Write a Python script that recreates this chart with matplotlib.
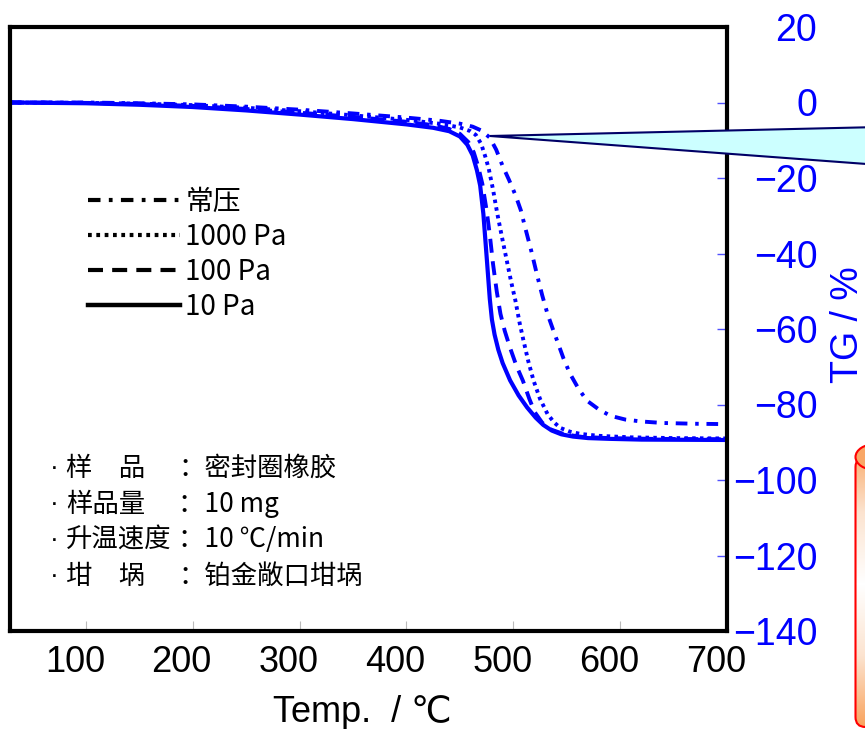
import matplotlib
matplotlib.use("Agg")
import matplotlib.pyplot as plt
import matplotlib.transforms as mtransforms
from matplotlib.lines import Line2D
from matplotlib.patches import Polygon, FancyBboxPatch, Ellipse
import numpy as np

# ---- data ----
t_10pa = [29, 100, 150, 200, 250, 300, 350, 400, 425, 440, 450, 457, 462, 466, 469,
          472, 475.5, 478, 480, 482.5, 486, 490, 497, 505, 513, 521, 528, 536, 545,
          556, 570, 590, 620, 700]
tg_10pa = [0, -0.2, -0.6, -1.2, -2.1, -3.2, -4.4, -5.8, -6.7, -7.6, -9.0, -11.2, -14.0,
           -18.0, -22.0, -29.5, -42.5, -52.0, -57.5, -61.5, -65.5, -69.0, -73.6, -77.6,
           -80.8, -83.5, -85.4, -86.9, -87.9, -88.5, -88.9, -89.1, -89.3, -89.4]

t_100pa = [29, 100, 150, 200, 250, 300, 350, 400, 425, 440, 450, 458, 463, 467, 471,
           475, 478, 481, 484.5, 488, 492, 497, 503, 509, 515, 520, 527, 535, 548, 565,
           590, 630, 700]
tg_100pa = [0, -0.1, -0.4, -0.9, -1.7, -2.7, -3.8, -5.1, -6.0, -7.0, -8.3, -10.5, -13.2,
            -16.8, -21.5, -28.5, -35.0, -42.7, -50.0, -56.0, -60.5, -65.0, -69.8, -73.7,
            -78.5, -82.0, -84.8, -86.6, -87.9, -88.6, -88.9, -89.1, -89.2]

t_1000pa = [29, 100, 150, 200, 250, 300, 350, 400, 430, 450, 460, 465, 470, 474, 477,
            481, 485, 490, 494.5, 498, 502, 506, 509.5, 514, 519, 525, 532, 538, 544,
            553, 563, 580, 610, 650, 700]
tg_1000pa = [0, -0.1, -0.3, -0.7, -1.4, -2.3, -3.4, -4.6, -5.6, -6.6, -7.6, -8.6, -11.0,
             -14.5, -17.5, -23.0, -29.4, -36.5, -42.7, -47.5, -52.5, -58.5, -63.0, -68.5,
             -73.7, -78.5, -82.5, -84.7, -86.2, -87.2, -87.8, -88.3, -88.7, -88.9, -89.0]

t_atm = [29, 100, 150, 200, 250, 300, 350, 400, 430, 450, 462, 470, 478, 484, 490, 496,
         502, 507, 511, 517, 522, 527, 532, 537, 541, 547, 553, 561, 569, 580, 591, 605,
         620, 640, 670, 700]
tg_atm = [0, 0, -0.2, -0.5, -1.1, -1.9, -2.9, -4.0, -4.8, -5.6, -6.4, -7.4, -9.3, -12.5,
          -16.8, -20.5, -24.5, -28.5, -33.0, -39.5, -45.4, -51.0, -56.0, -60.0, -63.1,
          -67.8, -71.8, -75.8, -79.0, -81.3, -83.0, -84.0, -84.5, -84.9, -85.1, -85.2]

x_ticks = [100, 200, 300, 400, 500, 600, 700]
y_ticks = [20, 0, -20, -40, -60, -80, -100, -120, -140]

legend_labels = ["常压", "1000 Pa", "100 Pa", "10 Pa"]
info_keys = ["样　品", "样品量", "升温速度", "坩　埚"]
info_values = ["：密封圈橡胶", "：10 mg", "：10 ℃/min", "：铂金敞口坩埚"]

# ---- styles ----
BLUE = "#0000FF"
cjk = ["Noto Sans CJK SC", "DejaVu Sans"]
latin = ["Liberation Sans", "DejaVu Sans"]

ls_atm = (0, (3, 2, 0.9, 2))
ls_1000 = (0, (0.9, 1.1))
ls_100 = (0, (3.6, 2.2))
ls_10 = "-"

W, H = 865, 729
fig = plt.figure(figsize=(W / 100, H / 100), dpi=100)
ax = fig.add_axes([10 / W, 1 - 631 / H, 717 / W, 604 / H])

ax.plot(t_atm, tg_atm, color=BLUE, lw=2.8, ls=ls_atm)
ax.plot(t_1000pa, tg_1000pa, color=BLUE, lw=2.8, ls=ls_1000)
ax.plot(t_100pa, tg_100pa, color=BLUE, lw=2.8, ls=ls_100)
ax.plot(t_10pa, tg_10pa, color=BLUE, lw=3.0, ls=ls_10)

ax.set_xlim(29, 700)
ax.set_ylim(-140, 20)

for sp in ax.spines.values():
    sp.set_linewidth(3)
    sp.set_color("black")

# x axis
ax.set_xticks(x_ticks)
ax.set_xticklabels([str(v) for v in x_ticks], family=latin, fontsize=26)
ax.tick_params(axis="x", direction="in", length=7, width=0.8, color="#BBBBBB", pad=10)
shift = mtransforms.ScaledTranslation(-11 / 100, 0, fig.dpi_scale_trans)
for lab in ax.get_xticklabels():
    lab.set_transform(lab.get_transform() + shift)

# y axis on the right
ax.yaxis.tick_right()
ax.set_yticks(y_ticks)
ax.set_yticklabels([f"{v}".replace("-", "\u2212") for v in y_ticks],
                   family=latin, fontsize=27, color=BLUE, ha="right")
ax.tick_params(axis="y", direction="in", length=7, width=1, color="#5050FF", pad=65)

fig.text(362 / W, 1 - 712 / H, "Temp.  / ℃", family=latin, fontsize=26,
         ha="center", va="center")
fig.text(848 / W, 1 - 325 / H, "TG / %", family=latin, fontsize=27, color=BLUE,
         rotation=90, ha="center", va="center")

# legend (black samples)
handles = [
    Line2D([], [], color="black", lw=3, ls=ls_atm),
    Line2D([], [], color="black", lw=3, ls=ls_1000),
    Line2D([], [], color="black", lw=3, ls=ls_100),
    Line2D([], [], color="black", lw=3.2, ls=ls_10),
]
leg = ax.legend(handles, legend_labels, loc="upper left",
                bbox_to_anchor=(88 / W, 1 - 187 / H), bbox_transform=fig.transFigure,
                frameon=False, borderpad=0, borderaxespad=0, handlelength=3.3,
                handletextpad=0.2, labelspacing=0.18,
                prop={"family": cjk, "size": 20})

# sample info block
for i, (k, v) in enumerate(zip(info_keys, info_values)):
    y = 1 - (468 + 36 * i) / H
    fig.text(50 / W, y, "·", family=latin, fontsize=19, ha="left", va="center")
    fig.text(66 / W, y, k, family=cjk, fontsize=19, ha="left", va="center")
    fig.text(178 / W, y, v, family=cjk, fontsize=19, ha="left", va="center")

# callout wedge
wedge = Polygon([(490 / W, 1 - 136 / H), (880 / W, 1 - 127 / H), (880 / W, 1 - 165 / H)],
                closed=True, transform=fig.transFigure, facecolor="#CCFFFF",
                edgecolor="#000066", lw=1.5, zorder=10)
fig.patches.append(wedge)

# orange cylinder on the right edge
cax = fig.add_axes([854 / W, 0, 40 / W, 290 / H])
cax.set_xlim(0, 40)
cax.set_ylim(0, 290)
cax.axis("off")
grad = np.linspace(0, 1, 256)
grad = np.abs(grad - 0.5) * 2
img = cax.imshow(grad[:, None], extent=(0, 40, 0, 290), aspect="auto",
                 cmap=matplotlib.colors.LinearSegmentedColormap.from_list(
                     "og", ["#FFFFFF", "#FCE3CF", "#F9A15A"]))
body = FancyBboxPatch((1.5, 2), 40, 270, boxstyle="round,pad=0,rounding_size=10",
                      facecolor="none", edgecolor="#FF0000", lw=1.5)
cax.add_patch(body)
img.set_clip_path(body)
cap = Ellipse((21.5, 272), 40, 26, facecolor="#F9A766", edgecolor="#FF0000", lw=1.5)
cax.add_patch(cap)

fig.savefig("out.png", dpi=100)
